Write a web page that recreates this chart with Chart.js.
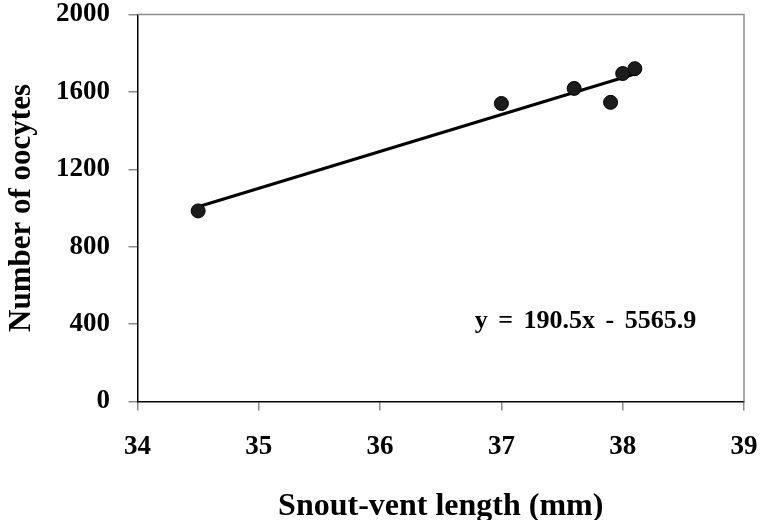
<!DOCTYPE html>
<html>
<head>
<meta charset="utf-8">
<script src="https://cdn.jsdelivr.net/npm/chart.js@4.4.1/dist/chart.umd.min.js"></script>
<style>
  html, body { margin: 0; padding: 0; background: #fff; }
  #wrap { width: 762px; height: 520px; }
</style>
</head>
<body>
<div id="wrap"><canvas id="chart" width="762" height="520"></canvas></div>
<script>
// dane
const svlMm = [34.5, 37.0, 37.6, 37.9, 38.0, 38.1];
const oocytes = [985, 1540, 1618, 1546, 1695, 1720];

// linia trendu: y = 190.5x - 5565.9 (końce przy 34.5 i 38.1)
const trendX = [34.5, 38.1];
const trendY = [1006.4, 1692.2];

const xTicks = [34, 35, 36, 37, 38, 39];
const yTicks = [0, 400, 800, 1200, 1600, 2000];
const equationText = 'y = 190.5x - 5565.9';

const serif = '"Liberation Serif", "Times New Roman", serif';

// ramka: górna i prawa krawędź na szaro
const framePlugin = {
    id: 'frame',
    beforeDatasetsDraw(chart) {
        const { ctx, chartArea: a } = chart;
        ctx.save();
        ctx.strokeStyle = '#8c8c8c';
        ctx.lineWidth = 1.5;
        ctx.beginPath();
        ctx.moveTo(a.left, a.top);
        ctx.lineTo(a.right, a.top);
        ctx.lineTo(a.right, a.bottom);
        ctx.stroke();
        ctx.restore();
    }
};

// równanie regresji
const equationPlugin = {
    id: 'equation',
    afterDraw(chart) {
        const { ctx, scales } = chart;
        ctx.save();
        ctx.font = 'bold 26px ' + serif;
        if ('wordSpacing' in ctx) ctx.wordSpacing = '4px';
        ctx.fillStyle = '#000';
        ctx.textAlign = 'left';
        ctx.textBaseline = 'alphabetic';
        ctx.fillText(equationText, scales.x.getPixelForValue(36.78), scales.y.getPixelForValue(379));
        ctx.restore();
    }
};

new Chart(document.getElementById('chart'), {
    type: 'scatter',
    data: {
        datasets: [
            {
                label: 'Oocytes',
                data: svlMm.map((x, i) => ({ x, y: oocytes[i] })),
                pointRadius: 7,
                pointHoverRadius: 7,
                backgroundColor: '#1c1c1c',
                borderColor: '#000',
                borderWidth: 1
            },
            {
                label: 'Trend',
                data: trendX.map((x, i) => ({ x, y: trendY[i] })),
                showLine: true,
                pointRadius: 0,
                borderColor: '#000',
                borderWidth: 3
            }
        ]
    },
    options: {
        responsive: false,
        animation: false,
        devicePixelRatio: 1,
        layout: { padding: { top: 14.5, right: 18, left: 0, bottom: 0 } },
        plugins: {
            legend: { display: false },
            tooltip: { enabled: false }
        },
        scales: {
            x: {
                type: 'linear',
                min: 34,
                max: 39,
                afterBuildTicks: s => { s.ticks = xTicks.map(v => ({ value: v })); },
                afterFit: s => {
                    s.height = 118.5;
                    s.paddingLeft = 0;
                    s.paddingRight = 0;
                },
                grid: { drawOnChartArea: false, color: '#8c8c8c', lineWidth: 1.5, tickLength: 9 },
                border: { color: '#000', width: 1.5 },
                ticks: {
                    color: '#000',
                    padding: 22.7,
                    callback: v => String(v),
                    font: { family: serif, size: 27, weight: 'bold', lineHeight: 1 }
                },
                title: {
                    display: true,
                    text: 'Snout-vent length (mm)',
                    color: '#000',
                    padding: { top: 0, bottom: 0 },
                    font: { family: serif, size: 32, weight: 'bold', lineHeight: 0.8 }
                }
            },
            y: {
                type: 'linear',
                min: 0,
                max: 2000,
                afterBuildTicks: s => { s.ticks = yTicks.map(v => ({ value: v })); },
                afterFit: s => {
                    s.width = 137.5;
                    s.paddingTop = 0;
                    s.paddingBottom = 0;
                },
                grid: { drawOnChartArea: false, color: '#8c8c8c', lineWidth: 1.5, tickLength: 9 },
                border: { color: '#000', width: 1.5 },
                ticks: {
                    color: '#000',
                    padding: 18.5,
                    callback: v => String(v),
                    font: { family: serif, size: 27, weight: 'bold', lineHeight: 1 }
                },
                title: {
                    display: true,
                    text: 'Number of oocytes',
                    color: '#000',
                    padding: { top: 6, bottom: 0 },
                    font: { family: serif, size: 31, weight: 'bold', lineHeight: 1 }
                }
            }
        }
    },
    plugins: [framePlugin, equationPlugin]
});
</script>
</body>
</html>
